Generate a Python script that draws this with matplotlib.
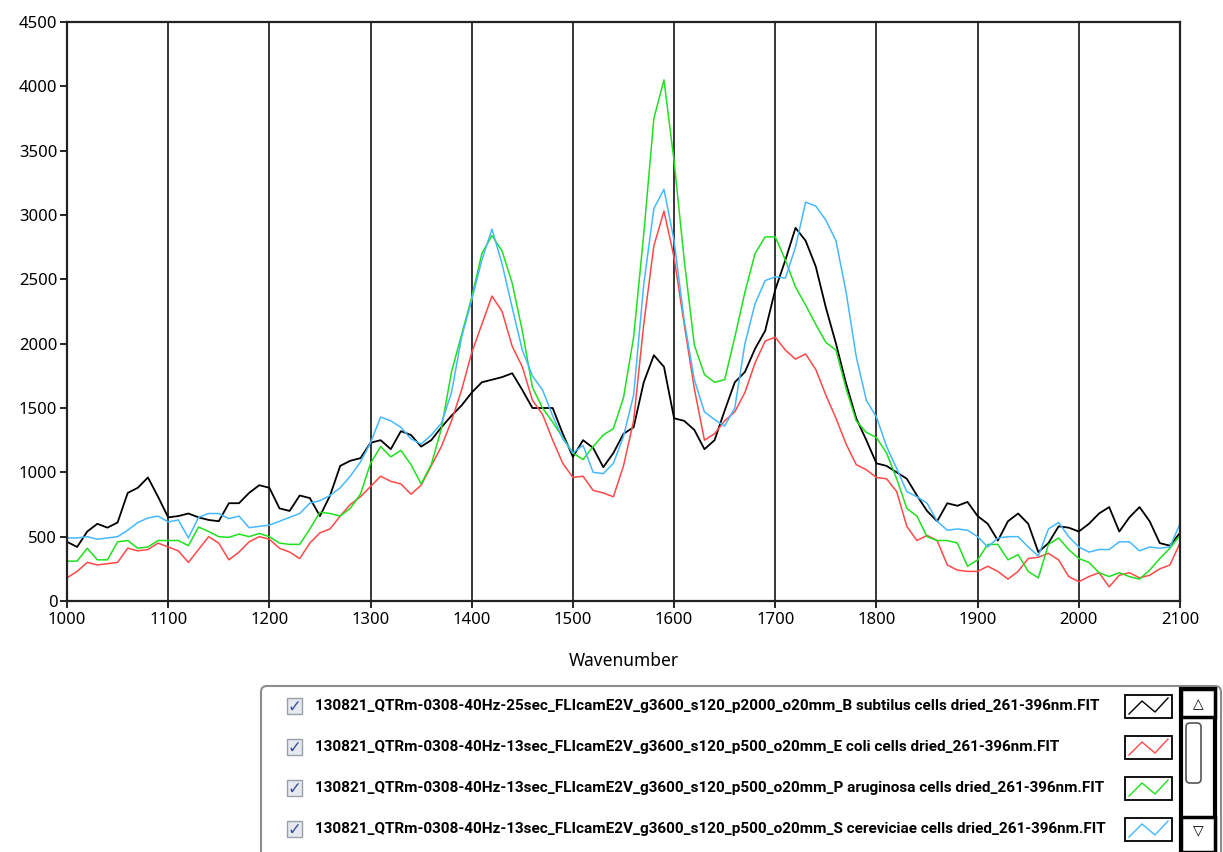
import numpy as np
import matplotlib
matplotlib.use("Agg")
from matplotlib import pyplot as plt
from matplotlib.patches import FancyBboxPatch, Rectangle

# sampled every 10 cm-1
wavenumber = np.arange(1000, 2101, 10)

b_subtilus = [460, 420, 540, 600, 570, 610, 840, 880, 960, 810,
              650, 660, 680, 650, 630, 620, 760, 760, 840, 900,
              880, 720, 700, 820, 800, 660, 820, 1050, 1090, 1110,
              1230, 1250, 1180, 1320, 1290, 1200, 1250, 1350, 1440, 1520,
              1620, 1700, 1720, 1740, 1770, 1640, 1500, 1500, 1500, 1300,
              1120, 1250, 1190, 1040, 1150, 1300, 1350, 1700, 1910, 1820,
              1420, 1400, 1330, 1180, 1250, 1480, 1700, 1780, 1960, 2100,
              2420, 2650, 2900, 2800, 2600, 2280, 2000, 1690, 1420, 1250,
              1070, 1050, 1000, 950, 820, 700, 620, 760, 740, 770,
              660, 600, 470, 620, 680, 600, 380, 450, 580, 570,
              540, 600, 680, 730, 540, 650, 730, 620, 450, 430,
              530]

e_coli = [180, 230, 300, 280, 290, 300, 410, 390, 400, 450,
          420, 390, 300, 400, 500, 450, 320, 380, 460, 500,
          480, 410, 380, 330, 450, 530, 560, 660, 750, 810,
          890, 970, 930, 910, 830, 900, 1050, 1200, 1400, 1640,
          1930, 2150, 2370, 2250, 1980, 1820, 1560, 1450, 1250, 1070,
          960, 970, 860, 840, 810, 1050, 1400, 2150, 2760, 3030,
          2670, 2150, 1650, 1250, 1300, 1400, 1470, 1620, 1850, 2020,
          2050, 1950, 1880, 1920, 1800, 1600, 1420, 1220, 1060, 1020,
          960, 950, 850, 580, 470, 510, 470, 280, 240, 230,
          230, 270, 230, 170, 230, 330, 340, 370, 320, 190,
          150, 190, 220, 110, 200, 220, 180, 200, 250, 280,
          450]

p_aruginosa = [310, 310, 410, 320, 320, 460, 470, 410, 420, 470,
               470, 470, 430, 575, 540, 500, 495, 520, 500, 525,
               500, 450, 440, 440, 560, 690, 680, 660, 720, 830,
               1070, 1200, 1120, 1170, 1060, 910, 1060, 1340, 1780, 2070,
               2360, 2700, 2840, 2720, 2470, 2100, 1660, 1500, 1390, 1270,
               1150, 1100, 1200, 1290, 1340, 1580, 2050, 2850, 3750, 4050,
               3420, 2650, 1990, 1760, 1700, 1720, 2050, 2400, 2700, 2830,
               2830, 2650, 2440, 2300, 2150, 2010, 1950, 1650, 1400, 1310,
               1270, 1150, 950, 720, 660, 500, 470, 470, 450, 270,
               320, 440, 440, 320, 360, 230, 180, 440, 490, 400,
               330, 300, 220, 190, 220, 190, 170, 240, 330, 410,
               510]

s_cereviciae = [490, 490, 500, 480, 490, 500, 550, 610, 645, 660,
                615, 630, 490, 650, 680, 680, 640, 660, 570, 580,
                590, 620, 650, 680, 760, 780, 820, 880, 970, 1080,
                1230, 1430, 1400, 1350, 1260, 1220, 1290, 1380, 1620, 2050,
                2340, 2650, 2890, 2620, 2280, 1950, 1750, 1640, 1440, 1260,
                1150, 1210, 1000, 990, 1070, 1280, 1600, 2460, 3050, 3200,
                2800, 2180, 1720, 1470, 1410, 1360, 1500, 2000, 2310, 2490,
                2520, 2510, 2750, 3100, 3070, 2960, 2800, 2400, 1900, 1560,
                1430, 1200, 1030, 850, 810, 760, 620, 550, 560, 550,
                500, 420, 490, 500, 500, 420, 350, 560, 610, 500,
                420, 380, 400, 400, 460, 460, 390, 420, 410, 420,
                600]

series_names = [
    "130821_QTRm-0308-40Hz-25sec_FLIcamE2V_g3600_s120_p2000_o20mm_B subtilus cells dried_261-396nm.FIT",
    "130821_QTRm-0308-40Hz-13sec_FLIcamE2V_g3600_s120_p500_o20mm_E coli cells dried_261-396nm.FIT",
    "130821_QTRm-0308-40Hz-13sec_FLIcamE2V_g3600_s120_p500_o20mm_P aruginosa cells dried_261-396nm.FIT",
    "130821_QTRm-0308-40Hz-13sec_FLIcamE2V_g3600_s120_p500_o20mm_S cereviciae cells dried_261-396nm.FIT",
]
colors = ["#000000", "#ff4848", "#1ee01e", "#45b8ff"]
widths = [1.3, 1.1, 1.1, 1.1]

x_ticks = list(range(1000, 2101, 100))
y_ticks = list(range(0, 4501, 500))

plt.rcParams['font.family'] = ['Noto Sans', 'DejaVu Sans']

fig = plt.figure(figsize=(12.23, 8.52), dpi=100)
ax = fig.add_axes([67 / 1223, 1 - 601 / 852, (1180 - 67) / 1223, (601 - 22) / 852])

for ys, c, lw in zip([b_subtilus, e_coli, p_aruginosa, s_cereviciae], colors, widths):
    ax.plot(wavenumber, ys, color=c, linewidth=lw)

ax.set_xlim(1000, 2100)
ax.set_ylim(0, 4500)
ax.set_xticks(x_ticks)
ax.set_yticks(y_ticks)
ax.xaxis.grid(True, color='black', linewidth=1.1)
ax.set_axisbelow(True)
ax.tick_params(axis='both', labelsize=12, length=5, width=1.2, color='black')
ax.tick_params(axis='x', pad=3)
ax.tick_params(axis='y', pad=2)
for s in ax.spines.values():
    s.set_linewidth(1.6)
    s.set_color('#222222')
ax.set_xlabel('Wavenumber', fontsize=12.5, labelpad=17)

# legend panel (LabVIEW style plot legend), laid out in pixel coordinates
lg = fig.add_axes([0, 0, 1, 1], zorder=5)
lg.set_xlim(0, 1223)
lg.set_ylim(852, 0)
lg.axis('off')

lg.add_patch(FancyBboxPatch((261, 686), 960, 200, boxstyle="round,pad=0,rounding_size=6",
                            facecolor='white', edgecolor='#8c8c8c', linewidth=1.5))

row_y = [706, 747, 788, 829]
zig_x = [1129, 1142, 1155, 1168]
zig_y = [8, -5, 6, -8]
names = []
for name, c, yy in zip(series_names, colors, row_y):
    # check box
    lg.add_patch(Rectangle((287, yy - 8), 15, 16, facecolor='#e6e9ef', edgecolor='#9aa0aa', linewidth=1))
    lg.text(294.5, yy + 1, '\u2713', color='#3a4fa0', fontsize=12, ha='center', va='center',
            family=['DejaVu Sans'], fontweight='bold')
    t = lg.text(315, yy, name, fontsize=10, ha='left', va='center', color='black',
                family=['Roboto', 'DejaVu Sans'], fontweight='bold')
    names.append(t)
    # sample box
    lg.add_patch(Rectangle((1125, yy - 11), 47, 23, facecolor='white', edgecolor='black', linewidth=1.3))
    lg.plot(zig_x, [yy + d for d in zig_y], color=c, linewidth=1.0)

# fit the file names to the width they take in the reference (first row ~785 px)
fig.canvas.draw()
w = names[0].get_window_extent(fig.canvas.get_renderer()).width
for t in names:
    t.set_fontsize(10 * 785 / w)

# scroll bar
lg.add_patch(Rectangle((1181, 689), 34, 163, facecolor='white', edgecolor='black', linewidth=3))
lg.add_patch(Rectangle((1181, 689), 34, 28, facecolor='white', edgecolor='black', linewidth=2.5))
lg.text(1198, 704, '\u25b3', fontsize=10, ha='center', va='center', family=['DejaVu Sans'])
lg.add_patch(FancyBboxPatch((1186, 723), 15, 60, boxstyle="round,pad=0,rounding_size=4",
                            facecolor='white', edgecolor='#555555', linewidth=1.2))
lg.add_patch(Rectangle((1181, 817), 34, 35, facecolor='white', edgecolor='black', linewidth=2.5))
lg.text(1198, 830, '\u25bd', fontsize=10, ha='center', va='center', family=['DejaVu Sans'])

fig.savefig('out.png', dpi=100)
